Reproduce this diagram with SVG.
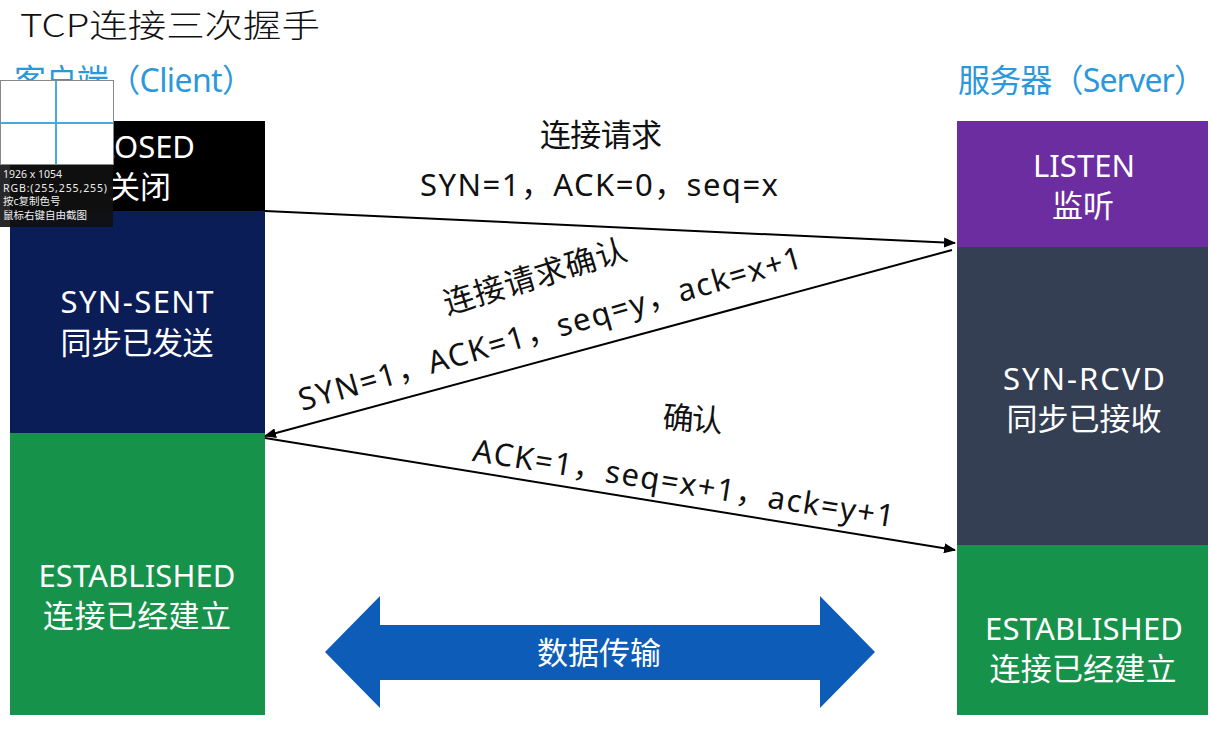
<svg xmlns="http://www.w3.org/2000/svg" width="1211" height="732" viewBox="0 0 1211 732">
<style>
.st{font-family:"Noto Sans","Noto Sans CJK SC",sans-serif;font-size:31px;fill:#fff;text-anchor:middle}
.hd{font-family:"Noto Sans","Noto Sans CJK SC",sans-serif;font-size:32px;fill:#2b98dc}
.lb{font-family:"Noto Sans","Noto Sans CJK SC",sans-serif;font-size:31px;fill:#111;text-anchor:middle}
.cn{stroke:#000;stroke-width:2;fill:none;marker-end:url(#ah)}
.ov{font-family:"Noto Sans","Noto Sans CJK SC",sans-serif;font-size:10.5px;fill:#eee}
</style>
<defs>
<marker id="ah" viewBox="0 0 12 10" refX="11" refY="5" markerWidth="12" markerHeight="10" markerUnits="userSpaceOnUse" orient="auto">
<path d="M0,0 L12,5 L0,10 Z" fill="#000"/>
</marker>
</defs>
<rect width="1211" height="732" fill="#fff"/>
<text x="20" y="37" font-family="'Noto Sans CJK SC',sans-serif" font-size="32" font-weight="300" fill="#111" textLength="300" lengthAdjust="spacingAndGlyphs">TCP连接三次握手</text>
<text class="hd" x="14" y="92" textLength="240">客户端（Client）</text>
<text class="hd" x="958" y="92" textLength="248">服务器（Server）</text>

<g id="client-closed"><rect x="10" y="121" width="255" height="90" fill="#000"/><text class="st" x="137" y="158" textLength="116">CLOSED</text><text class="st" x="140" y="198">关闭</text></g>
<g id="client-synsent"><rect x="10" y="211" width="255" height="222" fill="#0b1d57"/><text class="st" x="137" y="313" textLength="153">SYN-SENT</text><text class="st" x="137" y="354" textLength="153">同步已发送</text></g>
<g id="client-established"><rect x="10" y="433" width="255" height="282" fill="#17924a"/><text class="st" x="137" y="587" textLength="197">ESTABLISHED</text><text class="st" x="137" y="627" textLength="188">连接已经建立</text></g>

<g id="server-listen"><rect x="957" y="121" width="251" height="126" fill="#6b2da0"/><text class="st" x="1084" y="177" textLength="102">LISTEN</text><text class="st" x="1083" y="217">监听</text></g>
<g id="server-synrcvd"><rect x="957" y="247" width="251" height="298" fill="#343f54"/><text class="st" x="1084" y="390" textLength="162">SYN-RCVD</text><text class="st" x="1084" y="430" textLength="155">同步已接收</text></g>
<g id="server-established"><rect x="957" y="545" width="251" height="170" fill="#17924a"/><text class="st" x="1084" y="640" textLength="198">ESTABLISHED</text><text class="st" x="1083" y="680" textLength="187">连接已经建立</text></g>

<g id="connectors">
<line class="cn" x1="265" y1="211" x2="955" y2="243"/>
<line class="cn" x1="952" y1="250" x2="265" y2="436"/>
<line class="cn" x1="265" y1="438" x2="955" y2="550"/>
</g>

<g id="labels">
<text class="lb" x="601" y="146" textLength="122">连接请求</text>
<text class="lb" x="599" y="196" textLength="358">SYN=1，ACK=0，seq=x</text>
<text class="lb" transform="translate(538,287) rotate(-17)" textLength="190">连接请求确认</text>
<text class="lb" transform="translate(553,339) rotate(-16)" textLength="522">SYN=1，ACK=1，seq=y，ack=x+1</text>
<text class="lb" transform="translate(692,430) rotate(4)" textLength="60">确认</text>
<text class="lb" transform="translate(682,494) rotate(9)" textLength="426">ACK=1，seq=x+1，ack=y+1</text>
</g>

<g id="data-transfer">
<path d="M325,652 L380,596 L380,625 L820,625 L820,596 L875,652 L820,708 L820,680 L380,680 L380,708 Z" fill="#0d5cb8"/>
<text class="st" x="599" y="664" textLength="124">数据传输</text>
</g>

<g id="overlay">
<rect x="0.5" y="80.5" width="113" height="84" fill="#fff" stroke="#888" stroke-width="1"/>
<line x1="1" y1="123" x2="113" y2="123" stroke="#4aa8dc" stroke-width="2"/>
<line x1="56" y1="81" x2="56" y2="164" stroke="#4aa8dc" stroke-width="2"/>
<rect x="0" y="165" width="113" height="62" fill="#111" fill-opacity="0.9"/>
<text class="ov" x="3" y="178">1926 x 1054</text>
<text class="ov" x="3" y="191.5" textLength="104">RGB:(255,255,255)</text>
<text class="ov" x="3" y="205">按c复制色号</text>
<text class="ov" x="3" y="218.5">鼠标右键自由截图</text>
</g>
</svg>
